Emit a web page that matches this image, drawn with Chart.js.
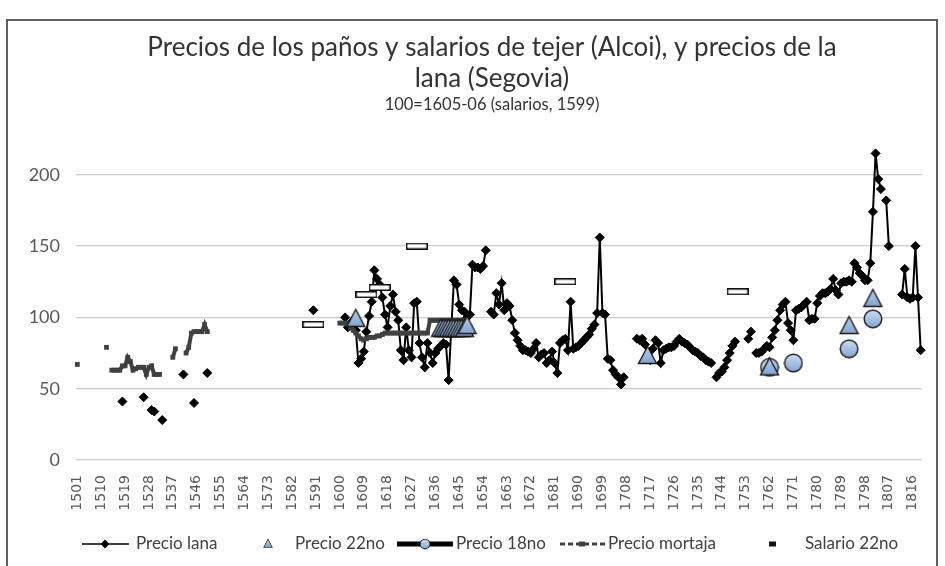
<!DOCTYPE html>
<html>
<head>
<meta charset="utf-8">
<script src="https://cdn.jsdelivr.net/npm/chart.js@4.4.1/dist/chart.umd.min.js"></script>
<style>
  html, body { margin: 0; padding: 0; background: #fff; overflow: hidden; }
  #wrap { position: relative; width: 945px; height: 566px; overflow: hidden; }
  #wrap canvas { position: absolute; left: 0; top: 0; }
  #frame { position: absolute; left: 6px; top: 19px; width: 932px; height: 620px;
           border: 2px solid #5f5f5f; box-sizing: border-box; pointer-events: none; }
</style>
</head>
<body>
<div id="wrap">
  <canvas id="chart" width="945" height="566"></canvas>
  <div id="frame"></div>
</div>
<script>
const firstYear = 1501;
const lastYear  = 1819;

// Precio lana (Segovia)
const lanaEarlyStart = 1518;
const lanaEarly = [41, null, null, null, null, null, null, null, 44, null, null, 35, 34, null, null, 28,
                   null, null, null, null, null, null, null, 60, null, null, null, 40, null, null, null, null, 61];
const lana1590 = 105;
const lanaMainStart = 1602;
const lanaMain = [
  100, 93, 96, 98, 91, 68, 71, 76,                 // 1602-1609
  90, 101, 111, 133, 127, 123, 114, 102, 93, 108,  // 1610
  116, 104, 98, 77, 70, 93, 77, 72, 110, 111,      // 1620
  82, 72, 65, 82, 75, 68, 75, 78, 80, 82,          // 1630
  81, 56, 92, 126, 123, 109, 105, 104, 100, 102,   // 1640
  137, 135, 135, 134, 136, 147, null, 104, 102, 117, // 1650
  109, 124, 105, 110, 108, 98, 89, 84, 80, 77,     // 1660
  77, 76, 75, 78, 82, 72, 74, 75, 68, 70,          // 1670
  76, 68, 61, 82, 84, 85, 77, 111, 78, 79,         // 1680
  80, 82, 84, 86, 88, 92, 95, 103, 156, 103,       // 1690
  102, 71, 70, 63, 60, 58, 53, 58, null, null,     // 1700
  null, null, 85, 84, 85, 81, 72, 70, 78, 84,      // 1710
  82, 68, 77, 78, 79, 79, 80, 83, 85, 83,          // 1720
  82, 81, 79, 77, 76, 75, 73, 72, 70, 69,          // 1730
  68, null, 58, 61, 62, 65, 70, 75, 80, 83,        // 1740
  null, null, null, null, 85, 90, null, 75, 75, 76, // 1750
  78, 80, 79, 86, 91, 98, 105, 109, 111, 96,       // 1760
  91, 84, 105, 106, 107, 109, 111, 98, 99, 99,     // 1770
  110, 115, 117, 117, 118, 120, 127, 119, 116, 124, // 1780
  125, 125, 126, 125, 138, 135, 131, 129, 126, 126, // 1790
  138, 174, 215, 197, 190, null, 182, 150, null, null, // 1800
  null, null, 116, 134, 114, 113, 114, 150, 114, 77  // 1810
];

// Precio mortaja
const mortajaEarlyStart = 1501;
const mortajaEarly = [67, null, null, null, null, null, null, null, null, null, null, 79, null,
                      63, 63, 63, 63, 66, 66, 72, 69, 63, 64, 65, 65, 65, 60, 65, 66, 60, 60, 60,
                      null, null, null, null, 72, 78, null, null, null, 75, 79, 89, 90, 90, 90, 90, 95, 90];
const mortajaLateStart = 1600;
const mortajaLate = [96, 96, 96, 95, 93, 91, 89, 87, 85, 84,
                     85, 86, 86, 86, 87, 87, 88, 89, 89, 89,
                     89, 89, 89, 89, 89, 89, 89, 89, 89, 89,
                     89, 89, 89, 89, 98, 98, 98, 98, 98, 98,
                     98, 98, 98, 98, 98, 98, 98, 98];

// Precio 22no
const p22Years  = [1606, 1638, 1639, 1640, 1641, 1642, 1643, 1644, 1645, 1646, 1647, 1648, 1716, 1762, 1792, 1801];
const p22Values = [100, 93, 93, 93, 93, 93, 93, 93, 93, 93, 93, 95, 74, 66, 95, 114];

// Precio 18no
const p18Years  = [1762, 1771, 1792, 1801];
const p18Values = [65, 68, 78, 99];

// Salario 22no
const salYears  = [1590, 1610, 1615, 1629, 1685, 1750];
const salValues = [95, 116, 121, 150, 125, 118];

const years = [];
for (let y = firstYear; y <= lastYear; y++) years.push(String(y));

function emptySeries() { return years.map(() => null); }
function putRun(target, start, values) {
  values.forEach((v, i) => { target[start - firstYear + i] = v; });
  return target;
}
function putPoints(target, ys, values) {
  ys.forEach((y, i) => { target[y - firstYear] = values[i]; });
  return target;
}

const lanaData = emptySeries();
putRun(lanaData, lanaEarlyStart, lanaEarly);
putRun(lanaData, 1590, [lana1590]);
putRun(lanaData, lanaMainStart, lanaMain);

const mortajaData = emptySeries();
putRun(mortajaData, mortajaEarlyStart, mortajaEarly);
putRun(mortajaData, mortajaLateStart, mortajaLate);

const p22Data = putPoints(emptySeries(), p22Years, p22Values);
const p18Data = putPoints(emptySeries(), p18Years, p18Values);
const salData = putPoints(emptySeries(), salYears, salValues);

// marker images
function triangleMarker(size) {
  const c = document.createElement('canvas');
  c.width = size; c.height = size;
  const g = c.getContext('2d');
  const grd = g.createLinearGradient(0, 0, 0, size);
  grd.addColorStop(0, '#c3d5ec');
  grd.addColorStop(1, '#7b9fcd');
  g.beginPath();
  g.moveTo(size / 2, 2.5);
  g.lineTo(size - 1.5, size - 1.5);
  g.lineTo(1.5, size - 1.5);
  g.closePath();
  g.fillStyle = grd;
  g.fill();
  g.lineWidth = 1.4;
  g.strokeStyle = '#1b1b1b';
  g.stroke();
  return c;
}
function circleMarker(size) {
  const c = document.createElement('canvas');
  c.width = size; c.height = size;
  const g = c.getContext('2d');
  const r = size / 2 - 1.2;
  const grd = g.createLinearGradient(0, 0, 0, size);
  grd.addColorStop(0, '#d3e1f3');
  grd.addColorStop(1, '#7da2d0');
  g.beginPath();
  g.arc(size / 2, size / 2, r, 0, Math.PI * 2);
  g.fillStyle = grd;
  g.fill();
  g.lineWidth = 1.4;
  g.strokeStyle = '#1b1b1b';
  g.stroke();
  return c;
}
function dashMarker(w, h) {
  const c = document.createElement('canvas');
  c.width = w; c.height = h;
  const g = c.getContext('2d');
  g.fillStyle = '#fff';
  g.fillRect(0, 0, w, h);
  g.lineWidth = 1.5;
  g.strokeStyle = '#111';
  g.strokeRect(0.75, 0.75, w - 1.5, h - 1.5);
  return c;
}

const triImg = triangleMarker(21);
const cirImg = circleMarker(20);
const salImg = dashMarker(22, 7);

const FONT = 'Lato, "Open Sans", sans-serif';

const decor = {
  id: 'decor',
  afterDraw(chart) {
    const ctx = chart.ctx;
    ctx.save();
    ctx.fillStyle = '#333333';
    ctx.textAlign = 'center';
    ctx.textBaseline = 'alphabetic';
    ctx.font = '26px ' + FONT;
    ctx.fillText('Precios de los paños y salarios de tejer (Alcoi), y precios de la', 492, 56);
    ctx.fillText('lana (Segovia)', 492, 87);
    ctx.font = '16.5px ' + FONT;
    ctx.fillText('100=1605-06 (salarios, 1599)', 492, 110);

    // legend
    const ly = 544;
    ctx.textAlign = 'left';
    ctx.textBaseline = 'middle';
    ctx.font = '17px ' + FONT;

    ctx.strokeStyle = '#000';
    ctx.lineWidth = 1.5;
    ctx.beginPath(); ctx.moveTo(82, ly); ctx.lineTo(129, ly); ctx.stroke();
    ctx.fillStyle = '#000';
    ctx.beginPath(); ctx.moveTo(105, ly - 4.5); ctx.lineTo(109.5, ly); ctx.lineTo(105, ly + 4.5); ctx.lineTo(100.5, ly); ctx.closePath(); ctx.fill();
    ctx.fillStyle = '#404040';
    ctx.fillText('Precio lana', 136, ly);

    ctx.drawImage(triImg, 268 - 5, ly - 6, 10, 10);
    ctx.fillText('Precio 22no', 295, ly);

    ctx.lineWidth = 5;
    ctx.strokeStyle = '#000';
    ctx.beginPath(); ctx.moveTo(397, ly); ctx.lineTo(453, ly); ctx.stroke();
    ctx.drawImage(cirImg, 425 - 5.5, ly - 5.5, 11, 11);
    ctx.fillText('Precio 18no', 456, ly);

    ctx.lineWidth = 3;
    ctx.strokeStyle = '#404040';
    ctx.setLineDash([5, 3]);
    ctx.beginPath(); ctx.moveTo(560, ly); ctx.lineTo(605, ly); ctx.stroke();
    ctx.setLineDash([]);
    ctx.fillStyle = '#404040';
    ctx.fillRect(579, ly - 2.5, 6, 5);
    ctx.fillText('Precio mortaja', 608, ly);

    ctx.fillStyle = '#111';
    ctx.fillRect(769, ly - 2.5, 7, 5);
    ctx.fillStyle = '#404040';
    ctx.fillText('Salario 22no', 805, ly);
    ctx.restore();
  }
};

new Chart(document.getElementById('chart'), {
  type: 'line',
  data: {
    labels: years,
    datasets: [
      {
        label: 'Precio lana', data: lanaData, order: 5, clip: false,
        borderColor: '#000', borderWidth: 2, spanGaps: false,
        pointStyle: 'rectRot', pointRadius: 4.5, pointBackgroundColor: '#000',
        pointBorderColor: '#000', pointBorderWidth: 1
      },
      {
        label: 'Precio mortaja', data: mortajaData, order: 4, clip: false,
        borderColor: '#404040', borderWidth: 4, spanGaps: false,
        pointStyle: 'rect', pointRadius: 3.4, pointBackgroundColor: '#404040',
        pointBorderWidth: 0
      },
      {
        label: 'Precio 18no', data: p18Data, order: 3, clip: false, showLine: false,
        pointStyle: cirImg, pointRadius: 10
      },
      {
        label: 'Precio 22no', data: p22Data, order: 2, clip: false, showLine: false,
        pointStyle: triImg, pointRadius: 10
      },
      {
        label: 'Salario 22no', data: salData, order: 1, clip: false, showLine: false,
        pointStyle: salImg, pointRadius: 10
      }
    ]
  },
  options: {
    responsive: false,
    animation: false,
    events: [],
    layout: { padding: { top: 132, right: 23, left: 0, bottom: 0 } },
    plugins: {
      legend: { display: false },
      title: { display: false },
      tooltip: { enabled: false }
    },
    scales: {
      x: {
        type: 'category',
        offset: true,
        grid: { display: false },
        border: { display: false },
        ticks: {
          autoSkip: false, maxRotation: 90, minRotation: 90, padding: 7,
          color: '#595959', font: { family: '"DejaVu Sans", sans-serif', size: 14 },
          callback: function (v, i) { return i % 9 === 0 ? this.getLabelForValue(v) : ''; }
        },
        afterFit: s => { s.height = 106; }
      },
      y: {
        min: 0, max: 230,
        grid: { color: '#cccccc', lineWidth: 1.2, drawTicks: false },
        border: { display: false },
        ticks: {
          stepSize: 50, includeBounds: false, padding: 16,
          color: '#595959', font: { family: FONT, size: 18 }
        },
        afterFit: s => { s.width = 76; }
      }
    }
  },
  plugins: [decor]
});
</script>
</body>
</html>
